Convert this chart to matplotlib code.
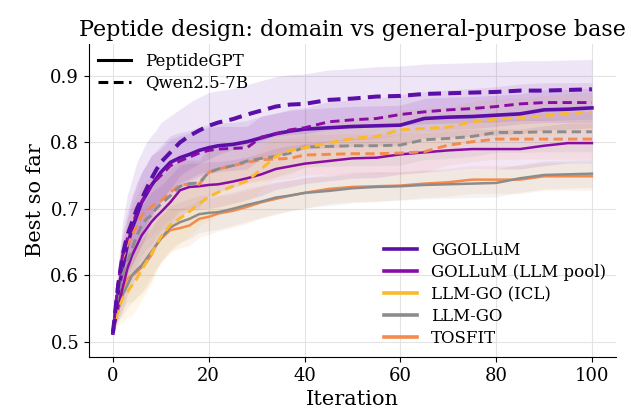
import numpy as np
import matplotlib
matplotlib.use("Agg")
from matplotlib import pyplot as plt
from matplotlib.lines import Line2D

plt.rcParams['font.family'] = 'DejaVu Serif'

iters = [0, 1, 2, 3, 4, 5, 6, 7, 8, 9, 10, 12, 14, 16, 18, 20, 22, 25, 28, 31,
         34, 37, 40, 45, 50, 55, 60, 65, 70, 75, 80, 85, 90, 95, 100]

# best so far (mean)
ggo_pep = [.513, .57, .61, .645, .67, .69, .71, .722, .735, .745, .755, .77, .777, .782, .788, .792, .795, .797, .801, .807,
           .813, .817, .82, .822, .824, .825, .826, .836, .838, .839, .841, .843, .849, .850, .852]
ggo_qwen = [.513, .58, .63, .66, .68, .70, .715, .73, .745, .758, .77, .785, .80, .81, .818, .825, .83, .835, .842, .848,
            .854, .857, .858, .864, .866, .869, .870, .873, .874, .875, .876, .878, .878, .879, .880]
gol_pep = [.513, .55, .58, .61, .63, .645, .66, .67, .68, .688, .695, .71, .728, .733, .734, .736, .737, .741, .746, .752,
           .76, .764, .768, .772, .776, .777, .782, .785, .788, .790, .790, .790, .795, .799, .799]
gol_qwen = [.513, .585, .63, .655, .675, .695, .71, .722, .735, .743, .75, .765, .772, .778, .784, .788, .79, .791, .792, .808,
            .813, .819, .822, .831, .834, .836, .842, .846, .849, .851, .854, .858, .860, .860, .860]
icl_qwen = [.513, .545, .565, .575, .585, .595, .608, .62, .632, .645, .658, .676, .686, .696, .708, .718, .725, .734, .742, .76,
            .779, .788, .792, .799, .806, .809, .819, .821, .823, .831, .835, .837, .840, .844, .845]
go_pep = [.513, .545, .57, .585, .60, .608, .615, .625, .635, .645, .655, .672, .68, .685, .692, .694, .695, .70, .706, .711,
          .717, .72, .724, .727, .731, .733, .734, .736, .737, .738, .739, .746, .751, .752, .753]
go_qwen = [.513, .57, .60, .62, .64, .66, .675, .685, .69, .70, .707, .72, .734, .738, .739, .755, .76, .765, .772, .776,
           .779, .784, .793, .794, .795, .795, .796, .804, .806, .809, .815, .815, .816, .816, .816]
tos_pep = [.513, .55, .58, .595, .60, .605, .612, .62, .63, .645, .655, .668, .671, .675, .685, .688, .693, .697, .703, .71,
           .715, .72, .724, .73, .733, .734, .735, .738, .740, .744, .744, .744, .749, .749, .749]
tos_qwen = [.513, .58, .625, .645, .66, .675, .69, .698, .703, .708, .712, .725, .736, .737, .737, .755, .76, .765, .77, .774,
            .775, .776, .781, .782, .783, .783, .784, .786, .796, .801, .805, .805, .805, .805, .805]

# half-width of shaded band
sd_wide = [0, .03, .05, .06, .065, .07, .07, .07, .065, .06, .06, .055, .05, .05, .05, .05, .048, .046, .045, .045,
           .045, .045, .045, .045, .045, .045, .045, .045, .045, .045, .045, .045, .045, .045, .045]
sd_mid = [0, .02, .035, .04, .045, .045, .045, .045, .045, .042, .04, .04, .038, .036, .035, .035, .034, .033, .032, .032,
          .031, .031, .03, .03, .03, .03, .03, .03, .03, .03, .03, .03, .03, .03, .03]
sd_low = [0, .015, .03, .035, .04, .04, .04, .04, .038, .036, .035, .033, .03, .03, .028, .027, .026, .025, .025, .024,
          .024, .023, .023, .022, .022, .022, .021, .021, .021, .021, .021, .021, .021, .021, .021]

methods = ['GGOLLuM', 'GOLLuM (LLM pool)', 'LLM-GO (ICL)', 'LLM-GO', 'TOSFIT']
colors = ['#5b0fa8', '#8a0ca6', '#fbb92c', '#8c8c8c', '#f48a4c']

# (method index, model, values, band)
series = [
    (4, 'pep', tos_pep, sd_low),
    (3, 'pep', go_pep, sd_low),
    (1, 'pep', gol_pep, sd_mid),
    (0, 'pep', ggo_pep, sd_mid),
    (4, 'qwen', tos_qwen, sd_mid),
    (3, 'qwen', go_qwen, sd_mid),
    (2, 'qwen', icl_qwen, sd_mid),
    (1, 'qwen', gol_qwen, sd_mid),
    (0, 'qwen', ggo_qwen, sd_wide),
]

fig = plt.figure(figsize=(6.31, 4.2), dpi=100)
ax = fig.add_axes([0.141, 0.15, 0.835, 0.745])

x = np.array(iters)
for m, model, vals, sd in series:
    y = np.array(vals)
    s = np.array(sd)
    c = colors[m]
    ax.fill_between(x, y - s, y + s, color=c, alpha=0.1, lw=0)
    lw = 2.6 if m == 0 else 1.8
    if model == 'qwen':
        lw = lw + 0.3
        ax.plot(x, y, color=c, lw=lw, ls=(0, (3.2, 1.8)))
    else:
        ax.plot(x, y, color=c, lw=lw)

ax.set_xlim(-5, 105)
ax.set_ylim(0.477, 0.948)
ax.set_xticks([0, 20, 40, 60, 80, 100])
ax.set_yticks([0.5, 0.6, 0.7, 0.8, 0.9])
ax.grid(True, color='#e3e3e3', lw=0.8)
ax.set_axisbelow(True)
ax.spines['top'].set_visible(False)
ax.spines['right'].set_visible(False)
ax.tick_params(labelsize=13)
ax.set_xlabel('Iteration', fontsize=15)
ax.set_ylabel('Best so far', fontsize=15)
ax.set_title('Peptide design: domain vs general-purpose base', fontsize=16)

style_handles = [Line2D([], [], color='black', lw=2.2),
                 Line2D([], [], color='black', lw=2.2, ls=(0, (3.2, 1.8)))]
leg1 = ax.legend(style_handles, ['PeptideGPT', 'Qwen2.5-7B'], loc='upper left',
                 frameon=False, fontsize=12, handlelength=2.0,
                 borderaxespad=0.15, labelspacing=0.25)
ax.add_artist(leg1)

method_handles = [Line2D([], [], color=c, lw=2.6) for c in colors]
ax.legend(method_handles, methods, loc='lower right', frameon=False, fontsize=12,
          handlelength=2.0, labelspacing=0.3, borderaxespad=0.2)

fig.savefig('out.png', dpi=100)
